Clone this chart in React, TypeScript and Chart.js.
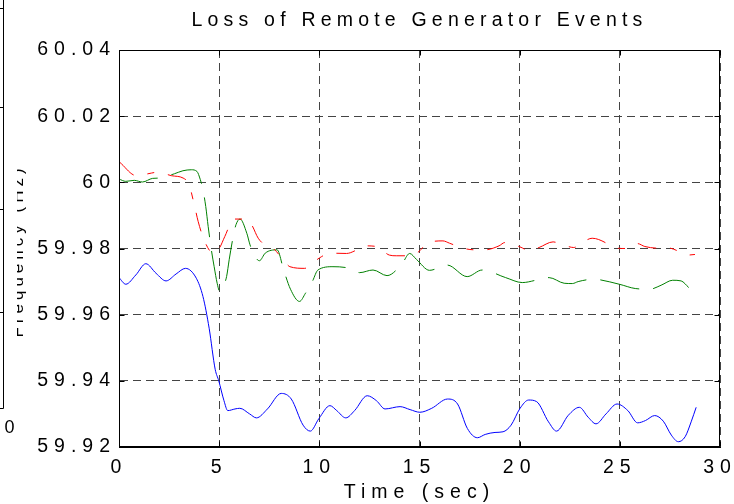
import React, { useEffect, useRef } from 'react';
import { Chart, registerables } from 'chart.js';

Chart.register(...registerables);

// ---------- text ----------
const chartTitle = 'Loss of Remote Generator Events';
const xAxisTitle = 'Time (sec)';
const neighbourAxisTitle = 'Frequency (Hz)';
const neighbourTickLabel = '0';

// ---------- axes ----------
const xTickValues = [0, 5, 10, 15, 20, 25, 30];
const yTickValues = [59.92, 59.94, 59.96, 59.98, 60.0, 60.02, 60.04];

// ---------- series (time in sec, frequency in Hz) ----------
const blueTime = [0, 0.34, 0.84, 1.34, 1.85, 2.35, 2.85, 3.32, 3.86, 4.19, 4.5, 4.8, 4.98, 5.24, 5.43, 5.79, 6.03, 6.52, 6.86, 7.41, 8.1, 8.6, 9.19, 9.55, 9.98, 10.53, 10.87, 11.32, 11.76, 12.39, 12.85, 13.28, 14.03, 14.53, 15.02, 15.61, 16.4, 16.9, 17.39, 17.89, 18.28, 18.77, 19.17, 19.57, 20.02, 20.45, 20.85, 21.44, 21.84, 22.43, 22.98, 23.42, 23.81, 24.31, 24.86, 25.4, 25.89, 26.28, 26.74, 27.17, 27.57, 27.92, 28.26, 28.56, 28.81];
const blueFreq = [59.9712, 59.9692, 59.972, 59.9754, 59.9725, 59.9702, 59.9723, 59.974, 59.971, 59.9655, 59.9559, 59.9435, 59.94, 59.934, 59.931, 59.9315, 59.9317, 59.93, 59.9288, 59.9315, 59.9362, 59.9345, 59.9266, 59.9248, 59.9286, 59.9325, 59.931, 59.9288, 59.931, 59.9355, 59.934, 59.9315, 59.9322, 59.9313, 59.9305, 59.9317, 59.9345, 59.933, 59.9256, 59.9228, 59.9238, 59.9244, 59.9246, 59.9266, 59.9317, 59.9342, 59.9337, 59.9276, 59.9248, 59.9296, 59.932, 59.929, 59.927, 59.93, 59.933, 59.931, 59.9273, 59.928, 59.9295, 59.9278, 59.9236, 59.9216, 59.9231, 59.9276, 59.932];

const redTime = [0.03, 0.87, 1.62, 1.95, 2.62, 3.2, 3.5, 3.7, 3.78, 3.95, 4.28, 4.7, 5.0, 5.28, 5.73, 6.37, 6.62, 6.95, 7.28, 7.7, 8.28, 8.53, 9.27, 9.78, 10.1, 10.5, 11.36, 11.88, 12.27, 12.85, 13.5, 13.84, 14.6, 15.01, 15.37, 16.17, 16.5, 17.17, 17.76, 18.26, 18.97, 19.26, 20.01, 20.5, 20.97, 21.67, 22.0, 22.7, 23.17, 23.62, 24.27, 24.54, 25.29, 25.87, 26.25, 26.92, 27.3, 28.0, 28.33, 28.75];
const redFreq = [60.0061, 60.002, 60.0028, 60.0031, 60.002, 60.0013, 59.9993, 59.9947, 59.9927, 59.9882, 59.9821, 59.9786, 59.98, 59.9836, 59.9889, 59.9889, 59.9872, 59.9831, 59.9811, 59.98, 59.976, 59.9745, 59.974, 59.9762, 59.9775, 59.9786, 59.9785, 59.9796, 59.9808, 59.9806, 59.978, 59.9778, 59.9778, 59.9793, 59.9816, 59.9823, 59.9816, 59.9801, 59.9796, 59.9796, 59.9808, 59.9818, 59.9805, 59.9793, 59.9803, 59.982, 59.9815, 59.9803, 59.982, 59.9831, 59.9818, 59.9806, 59.98, 59.9815, 59.9806, 59.9801, 59.9803, 59.979, 59.978, 59.9782];

const greenTime = [0, 0.34, 0.76, 1.17, 1.68, 2.01, 2.77, 3.19, 3.61, 3.89, 4.06, 4.19, 4.33, 4.45, 4.61, 4.75, 4.9, 5.03, 5.2, 5.37, 5.5, 5.7, 5.84, 6.04, 6.38, 6.54, 6.74, 7.01, 7.3, 7.89, 8.22, 8.56, 9.01, 9.31, 9.65, 9.93, 10.68, 11.51, 12.01, 12.68, 13.38, 14.12, 14.51, 14.85, 15.5, 16.38, 17.38, 18.13, 19.3, 20.13, 20.88, 21.47, 22.22, 22.63, 22.92, 23.67, 24.97, 25.77, 26.5, 27.06, 27.64, 28.06, 28.44];
const greenFreq = [60.001, 60.0003, 60.0006, 60.0001, 60.0012, 60.0013, 60.0026, 60.0035, 60.0038, 60.0033, 60.0008, 59.9978, 59.9927, 59.9867, 59.9796, 59.9745, 59.9695, 59.967, 59.9685, 59.9715, 59.9766, 59.9836, 59.9872, 59.9889, 59.9846, 59.9811, 59.9781, 59.9763, 59.9786, 59.9796, 59.9735, 59.9677, 59.964, 59.9665, 59.97, 59.9735, 59.9745, 59.974, 59.9727, 59.9735, 59.9718, 59.9753, 59.9785, 59.9767, 59.9734, 59.975, 59.9715, 59.9735, 59.9712, 59.9697, 59.9705, 59.9712, 59.9695, 59.9694, 59.97, 59.9707, 59.9692, 59.9679, 59.9677, 59.9689, 59.9704, 59.9702, 59.9682];

// ---------- style ----------
const FONT_FAMILY = '"Liberation Sans", Arial, Helvetica, sans-serif';
const FONT_SIZE = 19.5;
const LETTER_SPACING = '6px';
const TITLE_SPACING = '5.2px';
const mainFont = { family: FONT_FAMILY, size: FONT_SIZE, weight: 'normal' as const, lineHeight: 1.2 };

const toPoints = (t: number[], v: number[]) => t.map((x, i) => ({ x, y: v[i] }));
const fmtTick = (v: number) => String(parseFloat(Number(v).toFixed(2)));

const letterSpacingPlugin = {
  id: 'letterSpacingPlugin',
  beforeUpdate(chart: any) { chart.ctx.letterSpacing = LETTER_SPACING; },
  beforeDraw(chart: any) { chart.ctx.letterSpacing = LETTER_SPACING; },
};

const framePlugin = {
  id: 'framePlugin',
  afterDraw(chart: any) {
    const { ctx, chartArea: a, scales } = chart;
    const l = Math.round(a.left) + 0.5;
    const r = Math.round(a.right) - 0.5;
    const t = Math.round(a.top) + 0.5;
    const b = Math.round(a.bottom) - 0.5;
    ctx.save();
    ctx.strokeStyle = '#000';
    ctx.lineWidth = 1;
    ctx.setLineDash([]);
    ctx.strokeRect(l, t, r - l, b - t);
    const tick = 5;
    ctx.beginPath();
    scales.x.ticks.forEach((tk: any) => {
      const px = Math.round(scales.x.getPixelForValue(tk.value)) + 0.5;
      ctx.moveTo(px, b); ctx.lineTo(px, b - tick);
      ctx.moveTo(px, t); ctx.lineTo(px, t + tick);
    });
    scales.y.ticks.forEach((tk: any) => {
      const py = Math.round(scales.y.getPixelForValue(tk.value)) + 0.5;
      ctx.moveTo(l, py); ctx.lineTo(l + tick, py);
      ctx.moveTo(r, py); ctx.lineTo(r - tick, py);
    });
    ctx.stroke();

    // title, drawn over the space reserved by the (transparent) Chart.js title
    const tb = chart.titleBlock;
    ctx.fillStyle = '#000';
    ctx.letterSpacing = TITLE_SPACING;
    ctx.font = `${FONT_SIZE}px ${FONT_FAMILY}`;
    ctx.textAlign = 'center';
    ctx.textBaseline = 'middle';
    const titleY = tb ? tb.top + 8.6 + (FONT_SIZE * 1.2) / 2 : 20;
    ctx.fillText(chartTitle, (a.left + a.right) / 2, titleY);

    // fragment of the neighbouring figure, cut off at the left edge
    ctx.beginPath();
    ctx.moveTo(3.5, 0); ctx.lineTo(3.5, 408.5); ctx.lineTo(0, 408.5);
    [8.5, 107.5, 209.5, 312.5].forEach((y) => { ctx.moveTo(0, y); ctx.lineTo(3.5, y); });
    ctx.stroke();
    ctx.letterSpacing = '0px';
    ctx.font = `18px ${FONT_FAMILY}`;
    ctx.textAlign = 'center';
    ctx.textBaseline = 'middle';
    ctx.fillText(neighbourTickLabel, 9.5, 428.5);
    ctx.save();
    ctx.beginPath();
    ctx.rect(17, 0, 20, 504);
    ctx.clip();
    ctx.translate(22.7, 251);
    ctx.rotate(-Math.PI / 2);
    ctx.letterSpacing = '4px';
    ctx.font = `17px ${FONT_FAMILY}`;
    ctx.textAlign = 'center';
    ctx.textBaseline = 'alphabetic';
    ctx.fillText(neighbourAxisTitle, 0, 0);
    ctx.restore();
    ctx.restore();
  },
};

export default function App() {
  const canvasRef = useRef<HTMLCanvasElement | null>(null);

  useEffect(() => {
    const canvas = canvasRef.current;
    if (!canvas) return;
    const chart = new Chart(canvas, {
      type: 'line',
      data: {
        datasets: [
          {
            label: 'blue',
            data: toPoints(blueTime, blueFreq),
            borderColor: '#0000ff',
            borderWidth: 1,
            pointRadius: 0,
            fill: false,
            cubicInterpolationMode: 'monotone',
          },
          {
            label: 'red',
            data: toPoints(redTime, redFreq),
            borderColor: '#ff0000',
            borderWidth: 1,
            borderDash: [19, 14, 7, 14],
            pointRadius: 0,
            fill: false,
            cubicInterpolationMode: 'monotone',
          },
          {
            label: 'green',
            data: toPoints(greenTime, greenFreq),
            borderColor: '#008000',
            borderWidth: 1,
            borderDash: [40, 14],
            pointRadius: 0,
            fill: false,
            cubicInterpolationMode: 'monotone',
          },
        ],
      },
      options: {
        responsive: false,
        animation: false,
        events: [],
        layout: { padding: { left: 0, right: 14, top: 0, bottom: 0 } },
        plugins: {
          legend: { display: false },
          tooltip: { enabled: false },
          title: {
            display: true,
            text: chartTitle,
            fullSize: false,
            color: 'rgba(0,0,0,0)',
            font: mainFont,
            padding: { top: 8.6, bottom: 18 },
          },
        },
        scales: {
          x: {
            type: 'linear',
            min: xTickValues[0],
            max: xTickValues[xTickValues.length - 1],
            afterBuildTicks: (s: any) => { s.ticks = xTickValues.map((value) => ({ value })); },
            afterFit: (s: any) => { s.height = 57; s.paddingLeft = 0; s.paddingRight = 0; },
            ticks: {
              color: '#000',
              font: mainFont,
              padding: 9,
              maxRotation: 0,
              autoSkip: false,
              callback: (v: any) => fmtTick(v),
            },
            grid: { color: '#444', lineWidth: 1, drawTicks: false },
            border: { display: true, color: '#000', width: 1, dash: [8, 5] },
            title: { display: true, text: xAxisTitle, color: '#000', font: mainFont, padding: { top: 0, bottom: 0 } },
          },
          y: {
            type: 'linear',
            min: yTickValues[0],
            max: yTickValues[yTickValues.length - 1],
            afterBuildTicks: (s: any) => { s.ticks = yTickValues.map((value) => ({ value })); },
            afterFit: (s: any) => { s.width = 119; s.paddingTop = 0; s.paddingBottom = 0; },
            ticks: {
              color: '#000',
              font: mainFont,
              padding: 3,
              autoSkip: false,
              callback: (v: any) => fmtTick(v),
            },
            grid: { color: '#444', lineWidth: 1, drawTicks: false },
            border: { display: true, color: '#000', width: 1, dash: [8, 5] },
          },
        },
      },
      plugins: [letterSpacingPlugin, framePlugin],
    } as any);
    return () => chart.destroy();
  }, []);

  return (
    <div style={{ position: 'fixed', left: 0, top: 0, width: 734, height: 504, background: '#fff' }}>
      <canvas ref={canvasRef} width={734} height={504} style={{ display: 'block' }} />
    </div>
  );
}
